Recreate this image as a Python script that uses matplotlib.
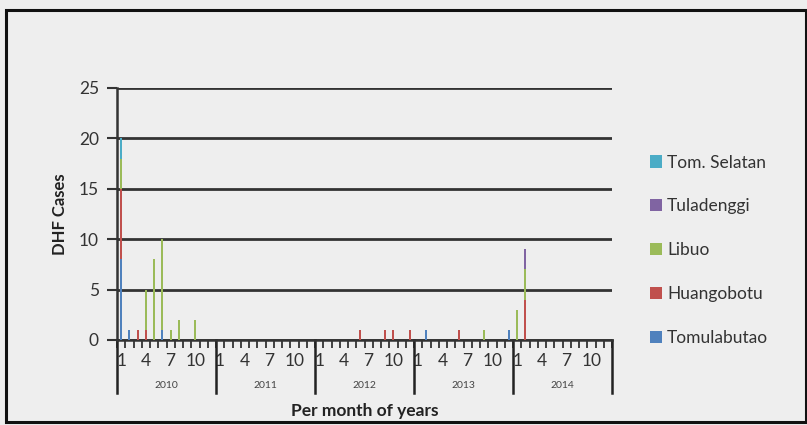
import numpy as np
import matplotlib.pyplot as plt
from matplotlib.patches import Rectangle
from matplotlib.lines import Line2D
from matplotlib.transforms import blended_transform_factory

plt.rcParams['font.family'] = ['Lato', 'DejaVu Sans']

years = ['2010', '2011', '2012', '2013', '2014']
month_labels = ['1', '4', '7', '10']

# monthly cases, 60 months (Jan 2010 .. Dec 2014)
tomulabutao = [0] * 60
huangobotu = [0] * 60
libuo = [0] * 60
tuladenggi = [0] * 60
tom_selatan = [0] * 60

# 2010
tomulabutao[0], huangobotu[0], libuo[0], tom_selatan[0] = 8, 7, 3, 2
tomulabutao[1] = 1
huangobotu[2] = 1
huangobotu[3], libuo[3] = 1, 4
libuo[4] = 8
tomulabutao[5], libuo[5] = 1, 9
libuo[6] = 1
libuo[7] = 2
libuo[9] = 2
# 2012
huangobotu[29] = 1
huangobotu[32] = 1
huangobotu[33] = 1
huangobotu[35] = 1
# 2013
tomulabutao[37] = 1
huangobotu[41] = 1
libuo[44] = 1
tomulabutao[47] = 1
# 2014
libuo[48] = 3
huangobotu[49], libuo[49], tuladenggi[49] = 4, 3, 2

series = [
    ('Tomulabutao', tomulabutao, '#4F81BD'),
    ('Huangobotu', huangobotu, '#C0504D'),
    ('Libuo', libuo, '#9BBB59'),
    ('Tuladenggi', tuladenggi, '#8064A2'),
    ('Tom. Selatan', tom_selatan, '#4BACC6'),
]

fig = plt.figure(figsize=(8.07, 4.25), dpi=100)
fig.patch.set_facecolor('#eeeeee')
ax = fig.add_axes([117 / 807, 85 / 425, 495 / 807, 252 / 425])
ax.set_facecolor('#eeeeee')

x = np.arange(1, 61)
bottom = np.zeros(60)
handles = []
for name, vals, col in series:
    b = ax.bar(x, vals, width=0.25, bottom=bottom, color=col, label=name, zorder=3)
    bottom += np.array(vals)
    handles.append(b)

ax.set_xlim(0.5, 60.5)
ax.set_ylim(0, 25)
ax.set_yticks(range(0, 26, 5))
ax.yaxis.grid(True, color='#333333', linewidth=2)
ax.set_axisbelow(True)
for s in ['top', 'right']:
    ax.spines[s].set_visible(False)
for s in ['left', 'bottom']:
    ax.spines[s].set_color('#333333')
    ax.spines[s].set_linewidth(1.8)
ax.tick_params(axis='y', length=7, width=1.5, color='#333333', labelsize=12.5,
               labelcolor='#333333', pad=6)

# month labels (major, no tick) and month boundary ticks (minor)
maj = [y * 12 + int(m) for y in range(5) for m in month_labels]
ax.set_xticks(maj)
ax.set_xticklabels(month_labels * 5, fontsize=12.5, color='#333333')
ax.tick_params(axis='x', which='major', length=0, pad=9)
ax.set_xticks(np.arange(0.5, 61, 1), minor=True)
ax.tick_params(axis='x', which='minor', length=6, width=1.3, color='#333333')

trans = blended_transform_factory(ax.transData, ax.transAxes)
for i in range(6):
    xb = 0.5 + 12 * i
    ax.add_line(Line2D([xb, xb], [0, -0.21], transform=trans, color='#222222',
                       linewidth=1.8, clip_on=False))
for i, yr in enumerate(years):
    ax.text(6.5 + 12 * i, -0.18, yr, transform=trans, ha='center', va='center',
            fontsize=7.5, color='#444444')

ax.set_ylabel('DHF Cases', fontsize=12, fontweight='bold', color='#222222', labelpad=8)
ax.set_xlabel('Per month of years', fontsize=12.5, fontweight='bold', color='#222222',
              labelpad=25)

leg = fig.legend(handles[::-1], [s[0] for s in series][::-1], loc='upper left',
                 bbox_to_anchor=(634 / 807, 1 - 139 / 425), frameon=False,
                 fontsize=12.5, labelspacing=1.6, handlelength=0.7, handleheight=0.7,
                 handletextpad=0.3, labelcolor='#333333')

fig.add_artist(Rectangle((6 / 807, 3 / 425), 800 / 807, 412 / 425, transform=fig.transFigure,
                         fill=False, edgecolor='#111111', linewidth=2.2))

fig.savefig('out.png', dpi=100, facecolor=fig.get_facecolor())
